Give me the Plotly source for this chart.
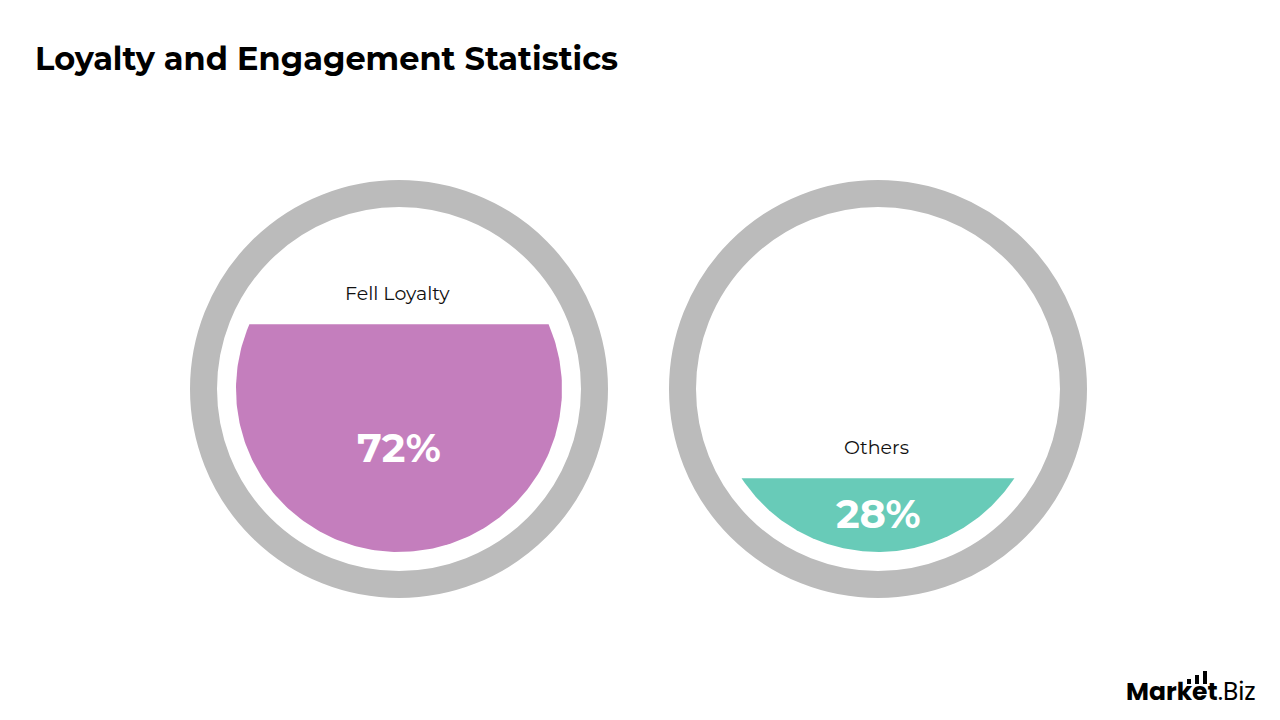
import numpy as np
import plotly.graph_objects as go

# ---- data ----
categories = ["Fell Loyalty", "Others"]
values = [72, 28]          # percent
colors = ["#C47EBD", "#68CBB8"]

# ---- layout geometry (pixels, y down) ----
W, H = 1280, 720
centers_x = [399, 878]
cy = 389
ring_r = 195.5
ring_w = 27
fill_r = 163
ring_color = "#BBBBBB"

fig = go.Figure()

for cat, val, col, cx in zip(categories, values, colors, centers_x):
    # ring
    fig.add_shape(type="circle", xref="x", yref="y",
                  x0=cx - ring_r, x1=cx + ring_r, y0=cy - ring_r, y1=cy + ring_r,
                  line=dict(color=ring_color, width=ring_w), fillcolor="rgba(0,0,0,0)",
                  layer="below")
    # liquid level (fraction of diameter)
    frac = 1.073 * (val / 100.0) - 0.074
    D = 2 * fill_r
    y_top = cy + fill_r - D * frac
    s = (y_top - cy) / fill_r
    s = max(-1.0, min(1.0, s))
    t0 = np.arcsin(s)
    t = np.linspace(t0, np.pi - t0, 200)
    xs = cx + fill_r * np.cos(t)
    ys = cy + fill_r * np.sin(t)
    fig.add_trace(go.Scatter(x=np.append(xs, xs[0]), y=np.append(ys, ys[0]),
                             mode="lines", fill="toself", fillcolor=col,
                             line=dict(color=col, width=0), hoverinfo="skip",
                             showlegend=False))
    # category label above the level
    fig.add_annotation(x=cx - 2, y=y_top - 31, text=cat, showarrow=False,
                       xref="x", yref="y",
                       font=dict(family="Montserrat, Open Sans, sans-serif", size=19, color="#111111"))
    # percentage label
    mid = (y_top + cy + fill_r) / 2
    pct_y = max(mid, cy + 60) - 2
    fig.add_annotation(x=cx, y=pct_y, text=f"<b>{val}%</b>", showarrow=False,
                       xref="x", yref="y",
                       font=dict(family="Montserrat, Open Sans, sans-serif", size=40, color="white"))

# title
fig.add_annotation(x=33, y=58, xref="x", yref="y", xanchor="left", yanchor="middle",
                   text="<b>Loyalty and Engagement Statistics</b>", showarrow=False,
                   font=dict(family="Montserrat, Open Sans, sans-serif", size=32, color="#000000"))

# logo
fig.add_annotation(x=1258, y=691, xref="x", yref="y", xanchor="right", yanchor="middle",
                   text="<b>Market</b>.Biz", showarrow=False,
                   font=dict(family="Poppins, Open Sans, sans-serif", size=25, color="#000000"))
for bx, btop in zip([1189, 1197, 1205], [679, 675, 671]):
    fig.add_shape(type="rect", xref="x", yref="y", x0=bx - 2, x1=bx + 2,
                  y0=btop, y1=684, fillcolor="#000000", line=dict(width=0))

fig.update_xaxes(range=[0, W], visible=False, fixedrange=True)
fig.update_yaxes(range=[H, 0], visible=False, fixedrange=True)
fig.update_layout(width=W, height=H, margin=dict(l=0, r=0, t=0, b=0),
                  paper_bgcolor="white", plot_bgcolor="white", showlegend=False)

fig.write_html("out.html")
